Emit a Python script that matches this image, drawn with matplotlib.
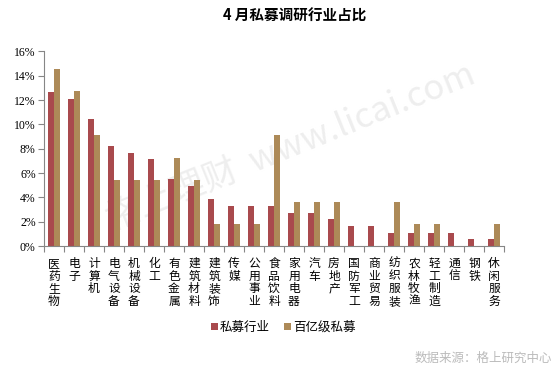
import numpy as np
import matplotlib
matplotlib.use("Agg")
import matplotlib.pyplot as plt
from matplotlib.ticker import FuncFormatter

plt.rcParams['font.family'] = ['Noto Sans CJK SC', 'DejaVu Sans']

# industries (April private-fund research share)
categories = ['医药生物', '电子', '计算机', '电气设备', '机械设备', '化工', '有色金属',
              '建筑材料', '建筑装饰', '传媒', '公用事业', '食品饮料', '家用电器', '汽车',
              '房地产', '国防军工', '商业贸易', '纺织服装', '农林牧渔', '轻工制造',
              '通信', '钢铁', '休闲服务']
private_all = [12.64, 12.09, 10.44, 8.24, 7.69, 7.14, 5.49, 4.95, 3.85, 3.30, 3.30, 3.30,
               2.75, 2.75, 2.20, 1.65, 1.65, 1.10, 1.10, 1.10, 1.10, 0.55, 0.55]
private_big = [14.55, 12.73, 9.09, 5.45, 5.45, 5.45, 7.27, 5.45, 1.82, 1.82, 1.82, 9.09,
               3.64, 3.64, 3.64, 0, 0, 3.64, 1.82, 1.82, 0, 0, 1.82]
series_names = ['私募行业', '百亿级私募']
yticks = [0, 2, 4, 6, 8, 10, 12, 14, 16]

red = '#A94A4D'
gold = '#AD8A58'
axis_gray = '#868686'

fig = plt.figure(figsize=(5.6, 3.72), dpi=100)

# faint watermark, kept behind the axes
fig.text(0.52, 0.6, '格上理财  www.licai.com', ha='center', va='center',
         fontsize=25, color='#EEEEEE', rotation=22, zorder=0)

ax = fig.add_axes([0.0786, 0.3387, 0.8214, 0.5229])
ax.set_zorder(1)
ax.patch.set_alpha(0)

x = np.arange(len(categories))
w = 0.3
ax.bar(x - w / 2, private_all, w, color=red, label=series_names[0])
ax.bar(x + w / 2, private_big, w, color=gold, label=series_names[1])

ax.set_xlim(-0.5, len(categories) - 0.5)
ax.set_ylim(0, 16)
ax.set_yticks(yticks)
ax.yaxis.set_major_formatter(FuncFormatter(lambda v, p: '%d%%' % v))
for lab in ax.get_yticklabels():
    lab.set_family('Liberation Serif')
    lab.set_fontsize(8.5)

# category ticks on slot boundaries, labels written vertically
ax.set_xticks(np.arange(len(categories) + 1) - 0.5)
ax.set_xticklabels([])
ax.set_xticks(x, minor=True)
ax.set_xticklabels(['\n'.join(c) for c in categories], minor=True,
                   fontsize=8.5, va='top', linespacing=0.95)
ax.tick_params(axis='x', which='minor', length=0, pad=8)
ax.tick_params(axis='x', which='major', length=4, color=axis_gray, direction='out')
ax.tick_params(axis='y', length=4, color=axis_gray, direction='out', pad=2)

for s in ['top', 'right']:
    ax.spines[s].set_visible(False)
for s in ['left', 'bottom']:
    ax.spines[s].set_color(axis_gray)

fig.text(0.527, 0.957, '4 月私募调研行业占比', ha='center', va='center',
         fontsize=10.5, fontweight='bold')

ax.legend(loc='center', bbox_to_anchor=(0.52, -0.418), ncol=2, frameon=False,
          fontsize=9, handlelength=0.55, handleheight=0.55, handletextpad=0.15,
          columnspacing=1.2)

fig.text(0.985, 0.038, '数据来源：格上研究中心', ha='right', va='center',
         fontsize=9, color='#BBBBBB')

fig.savefig('out.png', dpi=100)
